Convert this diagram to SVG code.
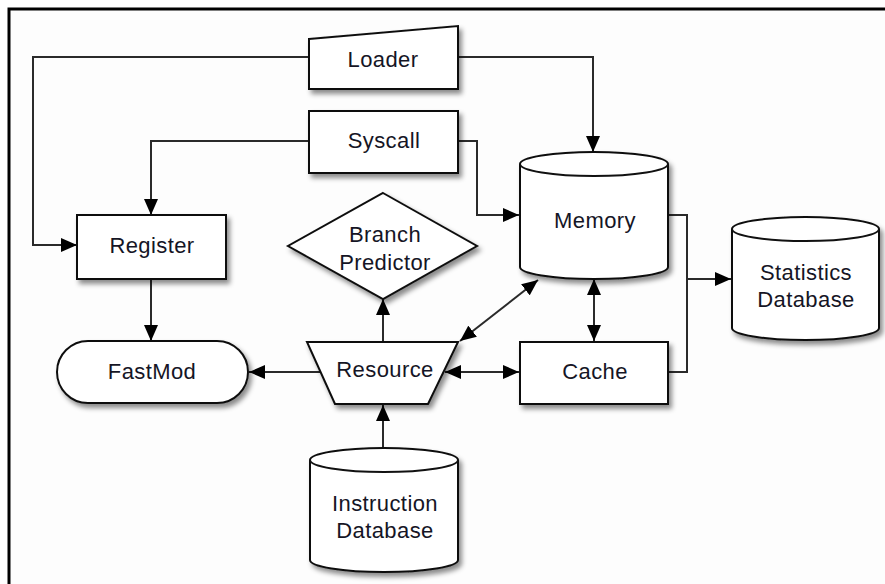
<svg xmlns="http://www.w3.org/2000/svg" width="885" height="584" viewBox="0 0 885 584">
  <style>
    .shape { fill: #ffffff; stroke: #111111; stroke-width: 2; filter: url(#shadow); }
    .rim { fill: none; stroke: #111111; stroke-width: 2; }
    .wire { fill: none; stroke: #2a2a2a; stroke-width: 2; }
    .to { marker-end: url(#head); }
    .both { marker-start: url(#head); marker-end: url(#head); }
    .label { font-family: "Liberation Sans", Arial, Helvetica, sans-serif; font-size: 22px; letter-spacing: 0.4px; fill: #151525; text-anchor: middle; }
  </style>
  <defs>
    <filter id="shadow" x="-20%" y="-20%" width="150%" height="150%">
      <feDropShadow dx="3" dy="4" stdDeviation="2.5" flood-color="#000000" flood-opacity="0.45"/>
    </filter>
    <marker id="head" viewBox="0 0 16 14" refX="16" refY="7" markerWidth="16" markerHeight="14" markerUnits="userSpaceOnUse" orient="auto-start-reverse">
      <path d="M0,0 L16,7 L0,14 z" fill="#000000"/>
    </marker>
  </defs>

  <!-- page -->
  <rect x="9" y="9" width="876" height="575" fill="#fdfdfd"/>
  <path d="M9,584 V9 H885" fill="none" stroke="#000000" stroke-width="3"/>

  <!-- connectors -->
  <g id="connectors">
    <path class="wire to" d="M309,57 H33 V245 H77"/>
    <path class="wire to" d="M458,57 H593 V152"/>
    <path class="wire to" d="M309,141 H151 V215"/>
    <path class="wire to" d="M458,141 H477 V215 H519"/>
    <path class="wire to" d="M151,279 V341"/>
    <path class="wire to" d="M320,372 H249"/>
    <path class="wire to" d="M383,342 V299"/>
    <path class="wire both" d="M460,341 L538,280"/>
    <path class="wire both" d="M445,372 H519"/>
    <path class="wire both" d="M594,279 V341"/>
    <path class="wire" d="M669,215 H687 V372 H669"/>
    <path class="wire to" d="M687,279 H731"/>
    <path class="wire to" d="M383,448 V405"/>
  </g>

  <!-- nodes -->
  <g id="loader">
    <path class="shape" d="M309,39 L458,26 V89 H309 Z"/>
    <text class="label" x="383" y="67">Loader</text>
  </g>
  <g id="syscall">
    <rect class="shape" x="309" y="111" width="149" height="62"/>
    <text class="label" x="384" y="148">Syscall</text>
  </g>
  <g id="register">
    <rect class="shape" x="77" y="215" width="149" height="64"/>
    <text class="label" x="152" y="253">Register</text>
  </g>
  <g id="fastmod">
    <rect class="shape" x="57" y="341" width="191" height="62" rx="31" ry="31"/>
    <text class="label" x="152" y="379">FastMod</text>
  </g>
  <g id="branch-predictor">
    <path class="shape" d="M383,193 L477,246 L383,299 L288,246 Z"/>
    <text class="label" x="385" y="242">Branch</text>
    <text class="label" x="385" y="270">Predictor</text>
  </g>
  <g id="resource">
    <path class="shape" d="M307,342 H458 L428,404 H335 Z"/>
    <text class="label" x="385" y="377">Resource</text>
  </g>
  <g id="memory">
    <path class="shape" d="M520,164 A74,12 0 0 1 668,164 V267 A74,12 0 0 1 520,267 Z"/>
    <path class="rim" d="M520,164 A74,12 0 0 0 668,164"/>
    <text class="label" x="595" y="228">Memory</text>
  </g>
  <g id="cache">
    <rect class="shape" x="520" y="342" width="148" height="62"/>
    <text class="label" x="595" y="379">Cache</text>
  </g>
  <g id="statistics-database">
    <path class="shape" d="M732,229 A73.5,12 0 0 1 879,229 V328 A73.5,12 0 0 1 732,328 Z"/>
    <path class="rim" d="M732,229 A73.5,12 0 0 0 879,229"/>
    <text class="label" x="806" y="280">Statistics</text>
    <text class="label" x="806" y="307">Database</text>
  </g>
  <g id="instruction-database">
    <path class="shape" d="M310,460 A74,12 0 0 1 458,460 V560 A74,12 0 0 1 310,560 Z"/>
    <path class="rim" d="M310,460 A74,12 0 0 0 458,460"/>
    <text class="label" x="385" y="511">Instruction</text>
    <text class="label" x="385" y="538">Database</text>
  </g>
</svg>
